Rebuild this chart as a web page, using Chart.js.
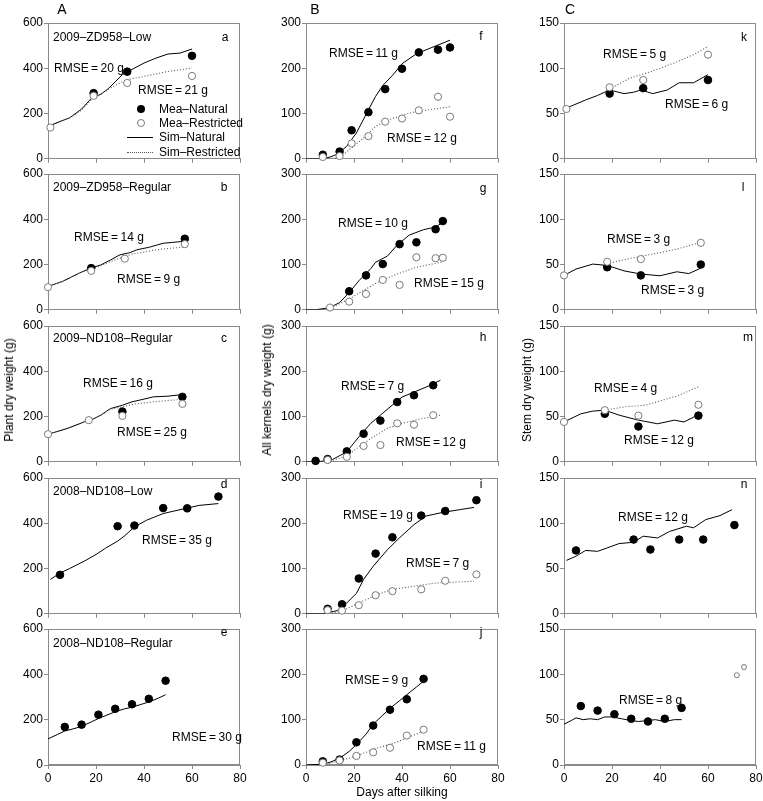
<!DOCTYPE html>
<html><head><meta charset="utf-8">
<script src="https://cdn.jsdelivr.net/npm/chart.js@4/dist/chart.umd.min.js"></script>
<style>
body{margin:0;background:#fff;width:763px;height:801px;position:relative;overflow:hidden;font-family:"Liberation Sans",Arial,sans-serif;}
canvas{position:absolute}
.t{position:absolute;font-size:12px;line-height:1;white-space:nowrap;color:#000;transform:translateY(-50%)}
.c{position:absolute;font-size:12px;line-height:1;white-space:nowrap;color:#000;transform:translate(-50%,-50%)}
.h{position:absolute;font-size:14px;line-height:1;transform:translate(-50%,-50%)}
.v{position:absolute;font-size:12px;line-height:1;white-space:nowrap;transform:translate(-50%,-50%) rotate(-90deg)}
.mk{position:absolute;box-sizing:border-box;border-radius:50%;width:8px;height:8px;transform:translate(-50%,-50%)}
.ln{position:absolute;height:0;width:26px}
</style></head><body>
<script>
// ---------- DATA (days after silking, g) ----------
const DAY_TICKS = [0, 20, 40, 60, 80];
const PLANT_TICKS = [0, 200, 400, 600];
const KERNEL_TICKS = [0, 100, 200, 300];
const STEM_TICKS = [0, 50, 100, 150];
const PANEL_NAMES = ["2009–ZD958–Low", "2009–ZD958–Regular", "2009–ND108–Regular", "2008–ND108–Low", "2008–ND108–Regular"];

// Column A: plant dry weight
const a_meaNat = [[19,290],[33,385],[60,455]];
const a_meaRes = [[1,138],[19,278],[33,335],[60,366]];
const a_simNat = [[1,147],[5,165],[9,181],[14,220],[18,266],[22,285],[25,309],[28,340],[31,372],[35,395],[40,423],[45,445],[50,463],[55,467],[60,485]];
const a_simRes = [[1,147],[5,165],[9,181],[14,215],[18,261],[22,285],[26,313],[30,335],[33,350],[40,364],[45,375],[50,386],[55,393],[60,401]];

const b_meaNat = [[18,184],[57,314]];
const b_meaRes = [[0,100],[18,172],[32,226],[57,290]];
const b_simNat = [[1,107],[6,125],[13,162],[18,185],[22,198],[26,220],[30,243],[34,252],[37,265],[42,276],[48,294],[52,298],[57,303]];
const b_simRes = [[1,107],[6,125],[13,162],[18,180],[22,195],[26,213],[30,228],[35,246],[40,255],[45,265],[51,272],[57,277]];

const c_meaNat = [[31,222],[56,287]];
const c_meaRes = [[0,122],[17,184],[31,203],[56,256]];
const c_simNat = [[1,125],[8,147],[15,176],[19,190],[22,206],[26,235],[31,250],[35,265],[40,277],[44,287],[50,290],[56,297]];
const c_simRes = [[1,125],[8,147],[15,176],[19,190],[22,206],[26,232],[31,243],[36,255],[44,265],[50,271],[56,276]];

const d_meaNat = [[5,172],[29,387],[36,390],[48,467],[58,466],[71,518]];
const d_simNat = [[1,152],[5,180],[9,200],[15,232],[20,262],[24,290],[29,321],[32,345],[36,384],[41,413],[48,443],[55,460],[63,479],[71,487]];

const e_meaNat = [[7,168],[14,178],[21,222],[28,248],[35,268],[42,292],[49,372]];
const e_simNat = [[0,115],[4,135],[7,150],[10,158],[14,170],[18,190],[21,205],[25,222],[28,235],[32,248],[35,255],[39,268],[42,278],[46,295],[49,310]];

// Column B: all kernels dry weight
const f_meaNat = [[7,9],[14,16],[19,63],[26,103],[33,154],[40,199],[47,235],[55,241],[60,246]];
const f_meaRes = [[7,4],[14,6],[19,34],[26,50],[33,82],[40,89],[47,107],[55,137],[60,93]];
const f_simNat = [[0,0],[7,0],[10,4],[13,10],[17,28],[21,57],[25,98],[29,138],[32,162],[36,184],[40,210],[46,232],[52,245],[60,262]];
const f_simRes = [[7,0],[14,2],[18,20],[24,46],[29,72],[35,87],[43,101],[52,109],[60,115]];

const g_meaNat = [[18,41],[25,76],[32,101],[39,145],[46,149],[54,178],[57,196]];
const g_meaRes = [[10,5],[18,18],[25,35],[32,66],[39,55],[46,116],[54,114],[57,115]];
const g_simNat = [[0,0],[4,0],[10,5],[14,16],[18,38],[22,64],[27,91],[29,105],[34,119],[38,143],[43,165],[49,177],[54,183],[57,193]];
const g_simRes = [[4,0],[10,3],[18,24],[25,46],[31,64],[38,79],[46,94],[57,106]];

const h_meaNat = [[4,2],[9,6],[17,23],[24,62],[31,91],[38,132],[45,147],[53,169]];
const h_meaRes = [[9,4],[17,11],[24,35],[31,37],[38,85],[45,82],[53,103]];
const h_simNat = [[0,0],[5,0],[11,5],[17,22],[22,55],[27,85],[31,103],[35,121],[40,143],[45,154],[50,165],[56,180]];
const h_simRes = [[5,0],[11,3],[17,13],[22,33],[28,55],[34,74],[40,85],[47,94],[56,103]];

const i_meaNat = [[9,11],[15,21],[22,78],[29,133],[36,169],[48,217],[58,227],[71,251]];
const i_meaRes = [[9,8],[15,7],[22,19],[29,41],[36,50],[48,54],[58,73],[71,87]];
const i_simNat = [[0,0],[7,0],[13,7],[17,24],[21,45],[24,76],[28,105],[34,142],[39,168],[45,197],[50,216],[57,224],[64,230],[70,235]];
const i_simRes = [[7,0],[13,3],[17,11],[22,24],[29,41],[36,54],[45,61],[54,68],[70,72]];

const j_meaNat = [[7,8],[14,12],[21,50],[28,87],[35,122],[42,145],[49,190]];
const j_meaRes = [[7,5],[14,10],[21,20],[28,28],[35,38],[42,65],[49,78]];
const j_simNat = [[0,0],[7,2],[10,6],[14,15],[18,30],[21,45],[25,68],[28,90],[32,110],[35,125],[39,142],[42,155],[46,172],[49,185]];
const j_simRes = [[7,1],[10,4],[14,10],[18,15],[21,20],[25,28],[28,35],[32,41],[35,45],[39,53],[42,60],[46,68],[49,75]];

// Column C: stem dry weight
const k_meaNat = [[19,72],[33,78],[60,87]];
const k_meaRes = [[1,55],[19,79],[33,87],[60,115]];
const k_simNat = [[1,56],[9,65],[14,70],[19,76],[25,72],[29,73.5],[32,76],[37,72],[43,76],[48,84],[54,84],[60,93]];
const k_simRes = [[19,77],[27,88.6],[37,97],[46,106],[54,115],[60,124]];

const l_meaNat = [[18,47],[32,38],[57,50]];
const l_meaRes = [[0,38],[18,53],[32,56],[57,74]];
const l_simNat = [[0,38],[5,45],[12,50.5],[18,49],[25,43],[32,39.5],[40,37.6],[47,42],[52,40],[57,46]];
const l_simRes = [[18,51],[26,56],[37,61.5],[47,67],[57,74.5]];

const m_meaNat = [[17,53],[31,39],[56,51]];
const m_meaRes = [[0,44],[17,57],[31,51],[56,63]];
const m_simNat = [[0,44],[7,53],[12,56],[17,57],[23,51.5],[31,46],[39,42],[46,46],[50,44],[56,52]];
const m_simRes = [[17,57],[26,61],[34,62.5],[41,68],[48,73.5],[56,83]];

const n_meaNat = [[5,70],[29,82],[36,71],[48,82],[58,82],[71,98]];
const n_simNat = [[1,59],[5,63.6],[9,70],[14,69],[18,72.8],[23,77.6],[29,79],[33,85.7],[39,83.8],[44,91],[51,96.7],[54,95],[59,104],[65,108.5],[70,115]];

const o_meaNat = [[7,65],[14,60],[21,56],[28,51],[35,48],[42,51],[49,63]];
const o_meaRes = [[72,99],[75,108]];
const o_simNat = [[0,45],[3,49],[5,52],[8,50],[11,51],[14,50],[17,53],[20,53],[24,51],[28,49],[31,48],[35,49],[38,50],[42,48],[46,50],[49,50]];

const RMSE = [
  ["a","RMSE = 20 g",54,68],["a","RMSE = 21 g",138,90],
  ["b","RMSE = 14 g",74,237],["b","RMSE = 9 g",117,279],
  ["c","RMSE = 16 g",83,383],["c","RMSE = 25 g",117,432],
  ["d","RMSE = 35 g",142,540],["e","RMSE = 30 g",172,737],
  ["f","RMSE = 11 g",329,53],["f","RMSE = 12 g",387,138],
  ["g","RMSE = 10 g",338,223],["g","RMSE = 15 g",414,283],
  ["h","RMSE = 7 g",341,386],["h","RMSE = 12 g",396,442],
  ["i","RMSE = 19 g",343,515],["i","RMSE = 7 g",406,563],
  ["j","RMSE = 9 g",345,680],["j","RMSE = 11 g",417,746],
  ["k","RMSE = 5 g",603,54],["k","RMSE = 6 g",665,104],
  ["l","RMSE = 3 g",607,239],["l","RMSE = 3 g",641,290],
  ["m","RMSE = 4 g",594,388],["m","RMSE = 12 g",624,440],
  ["n","RMSE = 12 g",618,517],["o","RMSE = 8 g",619,700]
];

// ---------- LAYOUT ----------
const COL_LEFT = [48, 306, 564];
const ROW_TOP = [23, 174, 326, 478, 629];
const PW = 192, PH = 136;
const PAD_L = 44, PAD_T = 10, PAD_R = 14;

const panels = [
  {id:'a',r:0,c:0,mn:a_meaNat,mr:a_meaRes,sn:a_simNat,sr:a_simRes},
  {id:'b',r:1,c:0,mn:b_meaNat,mr:b_meaRes,sn:b_simNat,sr:b_simRes},
  {id:'c',r:2,c:0,mn:c_meaNat,mr:c_meaRes,sn:c_simNat,sr:c_simRes},
  {id:'d',r:3,c:0,mn:d_meaNat,sn:d_simNat},
  {id:'e',r:4,c:0,mn:e_meaNat,sn:e_simNat},
  {id:'f',r:0,c:1,mn:f_meaNat,mr:f_meaRes,sn:f_simNat,sr:f_simRes},
  {id:'g',r:1,c:1,mn:g_meaNat,mr:g_meaRes,sn:g_simNat,sr:g_simRes},
  {id:'h',r:2,c:1,mn:h_meaNat,mr:h_meaRes,sn:h_simNat,sr:h_simRes},
  {id:'i',r:3,c:1,mn:i_meaNat,mr:i_meaRes,sn:i_simNat,sr:i_simRes},
  {id:'j',r:4,c:1,mn:j_meaNat,mr:j_meaRes,sn:j_simNat,sr:j_simRes},
  {id:'k',r:0,c:2,mn:k_meaNat,mr:k_meaRes,sn:k_simNat,sr:k_simRes},
  {id:'l',r:1,c:2,mn:l_meaNat,mr:l_meaRes,sn:l_simNat,sr:l_simRes},
  {id:'m',r:2,c:2,mn:m_meaNat,mr:m_meaRes,sn:m_simNat,sr:m_simRes},
  {id:'n',r:3,c:2,mn:n_meaNat,sn:n_simNat},
  {id:'o',r:4,c:2,mn:o_meaNat,mr:o_meaRes,sn:o_simNat,small:true}
];
const YTICKS = [PLANT_TICKS, KERNEL_TICKS, STEM_TICKS];

const FONT = '"Liberation Sans", Arial, sans-serif';
Chart.defaults.font.family = FONT;
Chart.defaults.font.size = 12;
Chart.defaults.color = '#000';

const framePlugin = {
  id: 'frame',
  beforeDatasetsDraw(chart) {
    const a = chart.chartArea, ctx = chart.ctx;
    ctx.save();
    ctx.strokeStyle = '#8a8a8a';
    ctx.lineWidth = 1;
    ctx.strokeRect(Math.round(a.left) + 0.5, Math.round(a.top) + 0.5, Math.round(a.right - a.left) - 1, Math.round(a.bottom - a.top) - 1);
    ctx.restore();
  }
};

const toXY = arr => arr.map(p => ({x: p[0], y: p[1]}));

panels.forEach(p => {
  const bottom = p.r === 4;
  const cv = document.createElement('canvas');
  const w = PAD_L + PW + PAD_R, h = PAD_T + PH + (bottom ? 26 : 8);
  cv.width = w; cv.height = h;
  cv.style.left = (COL_LEFT[p.c] - PAD_L) + 'px';
  cv.style.top = (ROW_TOP[p.r] - PAD_T) + 'px';
  cv.style.width = w + 'px'; cv.style.height = h + 'px';
  document.body.appendChild(cv);
  const yt = YTICKS[p.c];
  const ds = [];
  if (p.mr) ds.push({type:'scatter', data: toXY(p.mr), showLine:false, pointRadius: p.small ? 2.5 : 3.6, pointBackgroundColor:'#fff', pointBorderColor:'#7a7a7a', pointBorderWidth:1, order:0, clip:false});
  ds.push({type:'scatter', data: toXY(p.mn), showLine:false, pointRadius:3.8, pointBackgroundColor:'#000', pointBorderColor:'#000', pointBorderWidth:1, order:1, clip:false});
  ds.push({type:'line', data: toXY(p.sn), borderColor:'#000', borderWidth:1, pointRadius:0, tension:0, fill:false, order:3});
  if (p.sr) ds.push({type:'line', data: toXY(p.sr), borderColor:'#555', borderWidth:1.1, borderDash:[1,2], pointRadius:0, tension:0, fill:false, order:2});
  new Chart(cv, {
    data: {datasets: ds},
    options: {
      responsive:false, animation:false, devicePixelRatio:1,
      layout:{padding:{top:PAD_T, right:PAD_R, left:0, bottom:0}},
      plugins:{legend:{display:false}, tooltip:{enabled:false}},
      scales:{
        x:{type:'linear', min:DAY_TICKS[0], max:DAY_TICKS[DAY_TICKS.length-1],
           afterBuildTicks: s => { s.ticks = DAY_TICKS.map(v => ({value:v})); },
           afterFit: s => { s.height = bottom ? 26 : 8; },
           ticks:{display:bottom, padding:2, maxRotation:0, autoSkip:false, font:{size:12}},
           grid:{drawOnChartArea:false, drawTicks:true, tickLength:4, color:'#8a8a8a'},
           border:{display:true, color:'#8a8a8a'}},
        y:{type:'linear', min:yt[0], max:yt[yt.length-1],
           afterBuildTicks: s => { s.ticks = yt.map(v => ({value:v})); },
           afterFit: s => { s.width = PAD_L; },
           ticks:{padding:1, font:{size:12}},
           grid:{drawOnChartArea:false, drawTicks:true, tickLength:4, color:'#8a8a8a'},
           border:{display:true, color:'#8a8a8a'}}
      }
    },
    plugins:[framePlugin]
  });
});

// ---------- TEXT ----------
function addText(cls, txt, x, y, extra) {
  const d = document.createElement('div');
  d.className = cls; d.textContent = txt;
  d.style.left = x + 'px'; d.style.top = y + 'px';
  if (extra) Object.assign(d.style, extra);
  document.body.appendChild(d);
}
addText('h','A',62,9); addText('h','B',315,9); addText('h','C',570,9);
addText('v','Plant dry weight (g)',9,390);
addText('v','All kernels dry weight (g)',267,390);
addText('v','Stem dry weight (g)',527,390);
addText('c','Days after silking',402,792);
const NAME_Y = [37,187,338,491,643];
PANEL_NAMES.forEach((n,i) => addText('t', n, 53, NAME_Y[i]));
const LETTERS = [['a',225,37],['b',224,187],['c',224,338],['d',224,484],['e',224,632],
  ['f',481,36],['g',483,188],['h',483,337],['i',481,484],['j',481,632],
  ['k',744,37],['l',743,187],['m',748,337],['n',744,484]];
LETTERS.forEach(l => addText('c', l[0], l[1], l[2]));
RMSE.forEach(r => addText('t', r[1].replace(/ = /, '\u2009=\u2009'), r[2], r[3]));

// legend in panel a
const LEG = ['Mea–Natural','Mea–Restricted','Sim–Natural','Sim–Restricted'];
const LEG_Y = [109,123,137,152];
LEG.forEach((t,i) => addText('t', t, 159, LEG_Y[i]));
function addEl(cls, st){ const d=document.createElement('div'); d.className=cls; Object.assign(d.style, st); document.body.appendChild(d); }
addEl('mk',{left:'141px',top:LEG_Y[0]+'px',background:'#000'});
addEl('mk',{left:'141px',top:LEG_Y[1]+'px',background:'#fff',border:'1px solid #7a7a7a'});
addEl('ln',{left:'127px',top:LEG_Y[2]+'px',borderTop:'1px solid #000'});
addEl('ln',{left:'127px',top:LEG_Y[3]+'px',borderTop:'1px dotted #555'});
</script>
</body></html>
